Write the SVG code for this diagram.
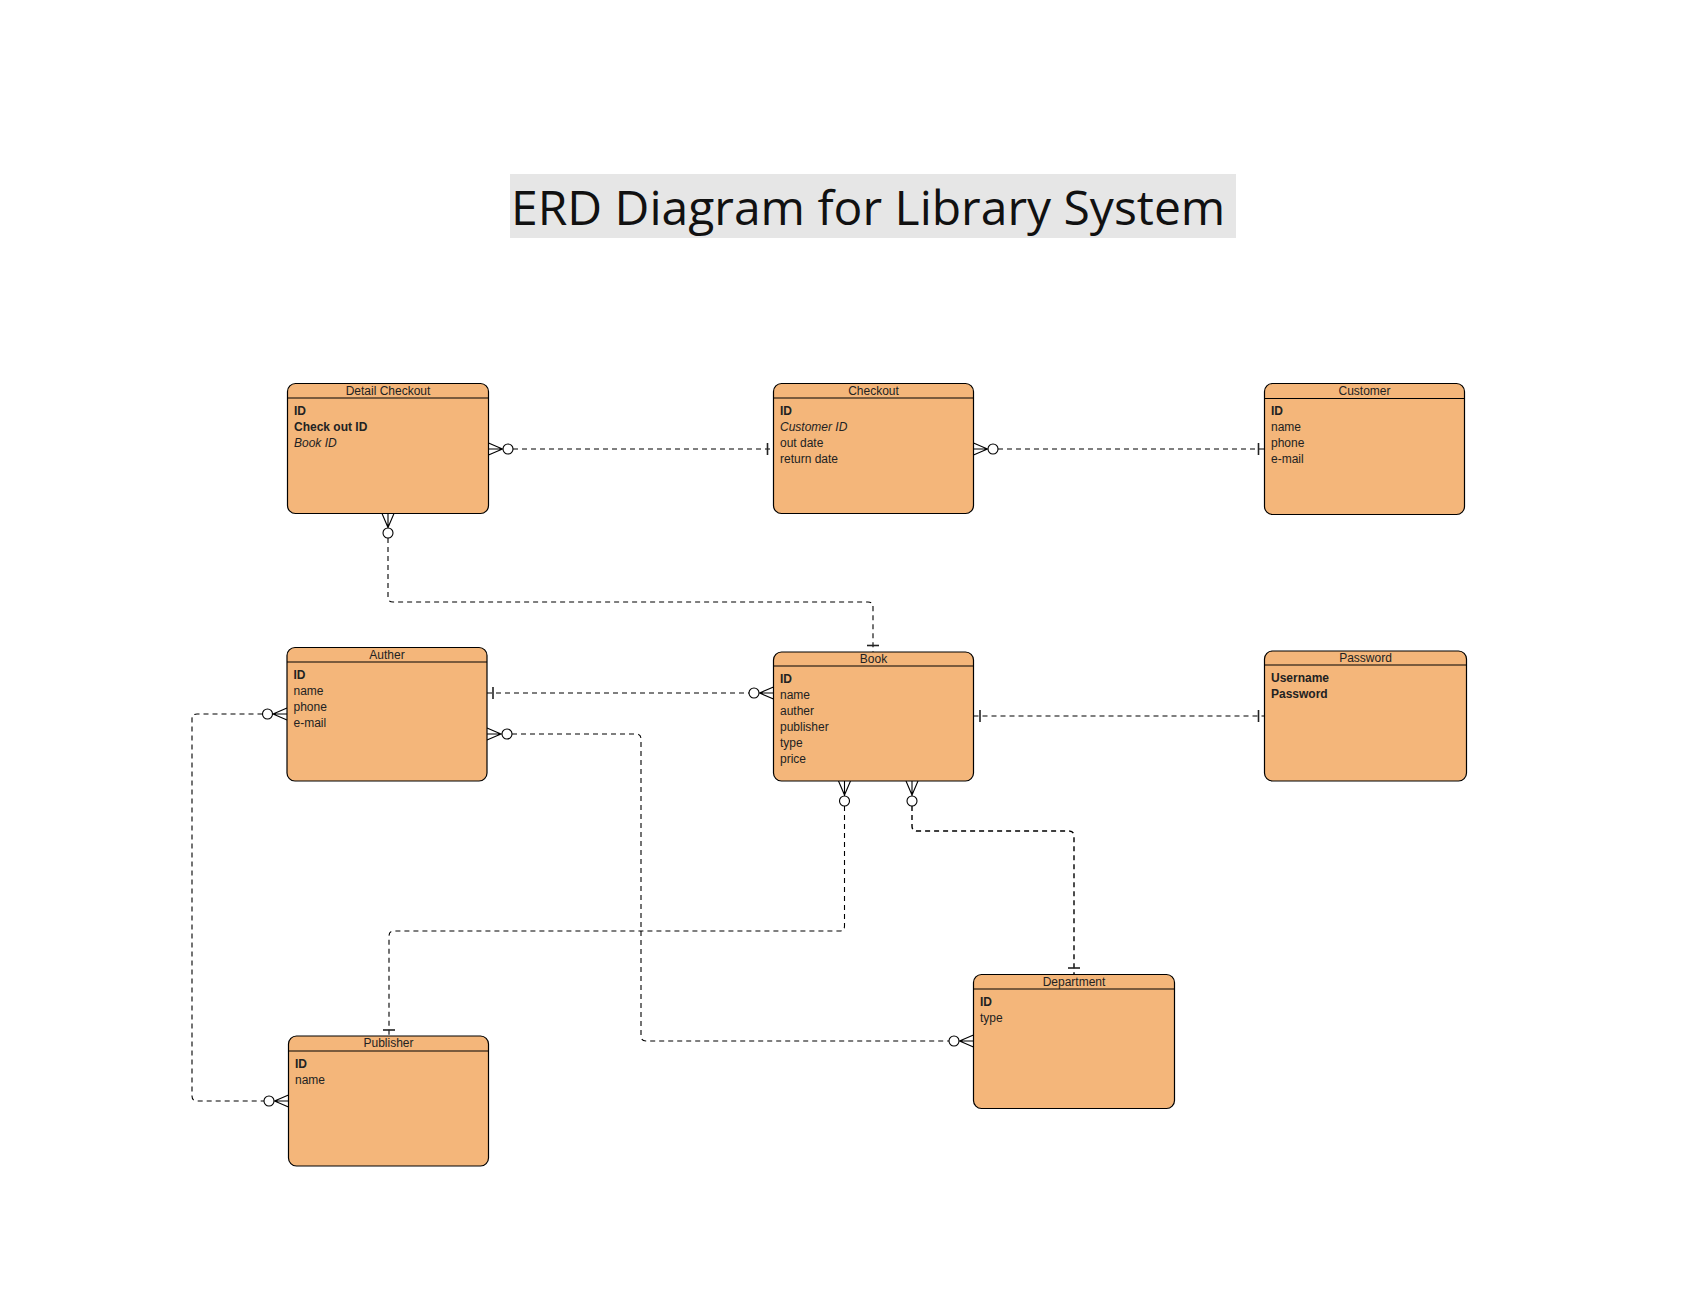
<svg xmlns="http://www.w3.org/2000/svg" width="1681" height="1300" viewBox="0 0 1681 1300">
<style>
.box{fill:#F4B67A;stroke:#000;stroke-width:1.2}
.hdr{stroke:#000;stroke-width:1.2}
.ttl{font-family:"Liberation Sans",Arial,Helvetica,sans-serif;font-size:12px;fill:#222;text-anchor:middle}
.att{font-family:"Liberation Sans",Arial,Helvetica,sans-serif;font-size:12px;fill:#222}
.b{font-weight:bold}
.i{font-style:italic}
.dash{fill:none;stroke:#000;stroke-width:1.1;stroke-dasharray:5 4}
.mk{fill:none;stroke:#000;stroke-width:1.1}
.bar{fill:none;stroke:#222;stroke-width:1.6}
.circ{fill:#fff;stroke:#000;stroke-width:1.1}
</style>
<rect width="1681" height="1300" fill="#fff"/>
<g id="title">
<rect x="510" y="174" width="726" height="64" fill="#E6E6E6"/>
<text x="511" y="225" font-family="'Open Sans','Noto Sans',sans-serif" font-size="48" fill="#111">ERD Diagram for Library System</text>
</g>
<g id="connectors">
<!-- Detail Checkout - Checkout -->
<line class="dash" x1="513" y1="449" x2="773.5" y2="449"/>
<path class="mk" d="M488.5,443 L502.5,449 L488.5,455 M488.5,449 L503,449"/>
<circle class="circ" cx="508" cy="449" r="5"/>
<line class="bar" x1="767.5" y1="443" x2="767.5" y2="455"/>
<!-- Checkout - Customer -->
<line class="dash" x1="998" y1="449" x2="1264.5" y2="449"/>
<path class="mk" d="M973.5,443 L987.5,449 L973.5,455 M973.5,449 L988,449"/>
<circle class="circ" cx="993" cy="449" r="5"/>
<line class="bar" x1="1258.5" y1="443" x2="1258.5" y2="455"/>
<!-- Detail Checkout - Book -->
<path class="dash" d="M388,538 L388,597 Q388,602 393,602 L868,602 Q873,602 873,607 L873,652"/>
<path class="mk" d="M382,513.5 L388,527.5 L394,513.5 M388,513.5 L388,528"/>
<circle class="circ" cx="388" cy="533" r="5"/>
<line class="bar" x1="867" y1="645.5" x2="879" y2="645.5"/>
<!-- Auther - Book -->
<line class="dash" x1="487" y1="693" x2="749" y2="693"/>
<line class="bar" x1="493" y1="687" x2="493" y2="699"/>
<path class="mk" d="M773.5,687 L759.5,693 L773.5,699 M773.5,693 L759,693"/>
<circle class="circ" cx="754" cy="693" r="5"/>
<!-- Book - Password -->
<line class="dash" x1="973.5" y1="716" x2="1264.5" y2="716"/>
<line class="bar" x1="980" y1="710" x2="980" y2="722"/>
<line class="bar" x1="1258.5" y1="710" x2="1258.5" y2="722"/>
<!-- Auther - Department -->
<path class="dash" d="M512,734 L636,734 Q641,734 641,739 L641,1036 Q641,1041 646,1041 L949,1041"/>
<path class="mk" d="M487,728 L501,734 L487,740 M487,734 L502,734"/>
<circle class="circ" cx="507" cy="734" r="5"/>
<path class="mk" d="M973.5,1035 L959.5,1041 L973.5,1047 M973.5,1041 L959,1041"/>
<circle class="circ" cx="954" cy="1041" r="5"/>
<!-- Auther - Publisher -->
<path class="dash" d="M262.5,714 L197,714 Q192,714 192,719 L192,1096 Q192,1101 197,1101 L264,1101"/>
<path class="mk" d="M287,708 L273,714 L287,720 M287,714 L272,714"/>
<circle class="circ" cx="267.5" cy="714" r="5"/>
<path class="mk" d="M288.5,1095 L274.5,1101 L288.5,1107 M288.5,1101 L274,1101"/>
<circle class="circ" cx="269" cy="1101" r="5"/>
<!-- Book - Publisher -->
<path class="dash" d="M844.5,806 L844.5,926 Q844.5,931 839.5,931 L394,931 Q389,931 389,936 L389,1036"/>
<path class="mk" d="M838.5,781 L844.5,795 L850.5,781 M844.5,781 L844.5,796"/>
<circle class="circ" cx="844.5" cy="801" r="5"/>
<line class="bar" x1="383" y1="1030" x2="395" y2="1030"/>
<!-- Book - Department -->
<path class="dash" d="M912,806 L912,826 Q912,831 917,831 L1069,831 Q1074,831 1074,836 L1074,974.5" style="stroke-width:1.4"/>
<path class="mk" d="M906,781 L912,795 L918,781 M912,781 L912,796"/>
<circle class="circ" cx="912" cy="801" r="5"/>
<line class="bar" x1="1068" y1="968" x2="1080" y2="968"/>
</g>
<g id="detail-checkout">
<rect class="box" x="287.5" y="383.5" width="201" height="130" rx="8"/>
<line class="hdr" x1="287.5" y1="398" x2="488.5" y2="398"/>
<text class="ttl" x="388" y="394.5">Detail Checkout</text>
<text class="att b" x="294" y="415">ID</text>
<text class="att b" x="294" y="431">Check out ID</text>
<text class="att i" x="294" y="447">Book ID</text>
</g>
<g id="checkout">
<rect class="box" x="773.5" y="383.5" width="200" height="130" rx="8"/>
<line class="hdr" x1="773.5" y1="398" x2="973.5" y2="398"/>
<text class="ttl" x="873.5" y="394.5">Checkout</text>
<text class="att b" x="780" y="415">ID</text>
<text class="att i" x="780" y="431">Customer ID</text>
<text class="att" x="780" y="447">out date</text>
<text class="att" x="780" y="463">return date</text>
</g>
<g id="customer">
<rect class="box" x="1264.5" y="383.5" width="200" height="131" rx="8"/>
<line class="hdr" x1="1264.5" y1="398.5" x2="1464.5" y2="398.5"/>
<text class="ttl" x="1364.5" y="394.5">Customer</text>
<text class="att b" x="1271" y="415">ID</text>
<text class="att" x="1271" y="431">name</text>
<text class="att" x="1271" y="447">phone</text>
<text class="att" x="1271" y="463">e-mail</text>
</g>
<g id="auther">
<rect class="box" x="287" y="647.5" width="200" height="133.5" rx="8"/>
<line class="hdr" x1="287" y1="662" x2="487" y2="662"/>
<text class="ttl" x="387" y="658.5">Auther</text>
<text class="att b" x="293.5" y="679">ID</text>
<text class="att" x="293.5" y="695">name</text>
<text class="att" x="293.5" y="711">phone</text>
<text class="att" x="293.5" y="727">e-mail</text>
</g>
<g id="book">
<rect class="box" x="773.5" y="652" width="200" height="129" rx="8"/>
<line class="hdr" x1="773.5" y1="666" x2="973.5" y2="666"/>
<text class="ttl" x="873.5" y="662.5">Book</text>
<text class="att b" x="780" y="683">ID</text>
<text class="att" x="780" y="699">name</text>
<text class="att" x="780" y="715">auther</text>
<text class="att" x="780" y="731">publisher</text>
<text class="att" x="780" y="747">type</text>
<text class="att" x="780" y="763">price</text>
</g>
<g id="password">
<rect class="box" x="1264.5" y="651" width="202" height="130" rx="8"/>
<line class="hdr" x1="1264.5" y1="665" x2="1466.5" y2="665"/>
<text class="ttl" x="1365.5" y="661.5">Password</text>
<text class="att b" x="1271" y="682">Username</text>
<text class="att b" x="1271" y="698">Password</text>
</g>
<g id="department">
<rect class="box" x="973.5" y="974.5" width="201" height="134" rx="8"/>
<line class="hdr" x1="973.5" y1="989" x2="1174.5" y2="989"/>
<text class="ttl" x="1074" y="985.5">Department</text>
<text class="att b" x="980" y="1006">ID</text>
<text class="att" x="980" y="1022">type</text>
</g>
<g id="publisher">
<rect class="box" x="288.5" y="1036" width="200" height="130" rx="8"/>
<line class="hdr" x1="288.5" y1="1051" x2="488.5" y2="1051"/>
<text class="ttl" x="388.5" y="1047">Publisher</text>
<text class="att b" x="295" y="1068">ID</text>
<text class="att" x="295" y="1084">name</text>
</g>
</svg>
